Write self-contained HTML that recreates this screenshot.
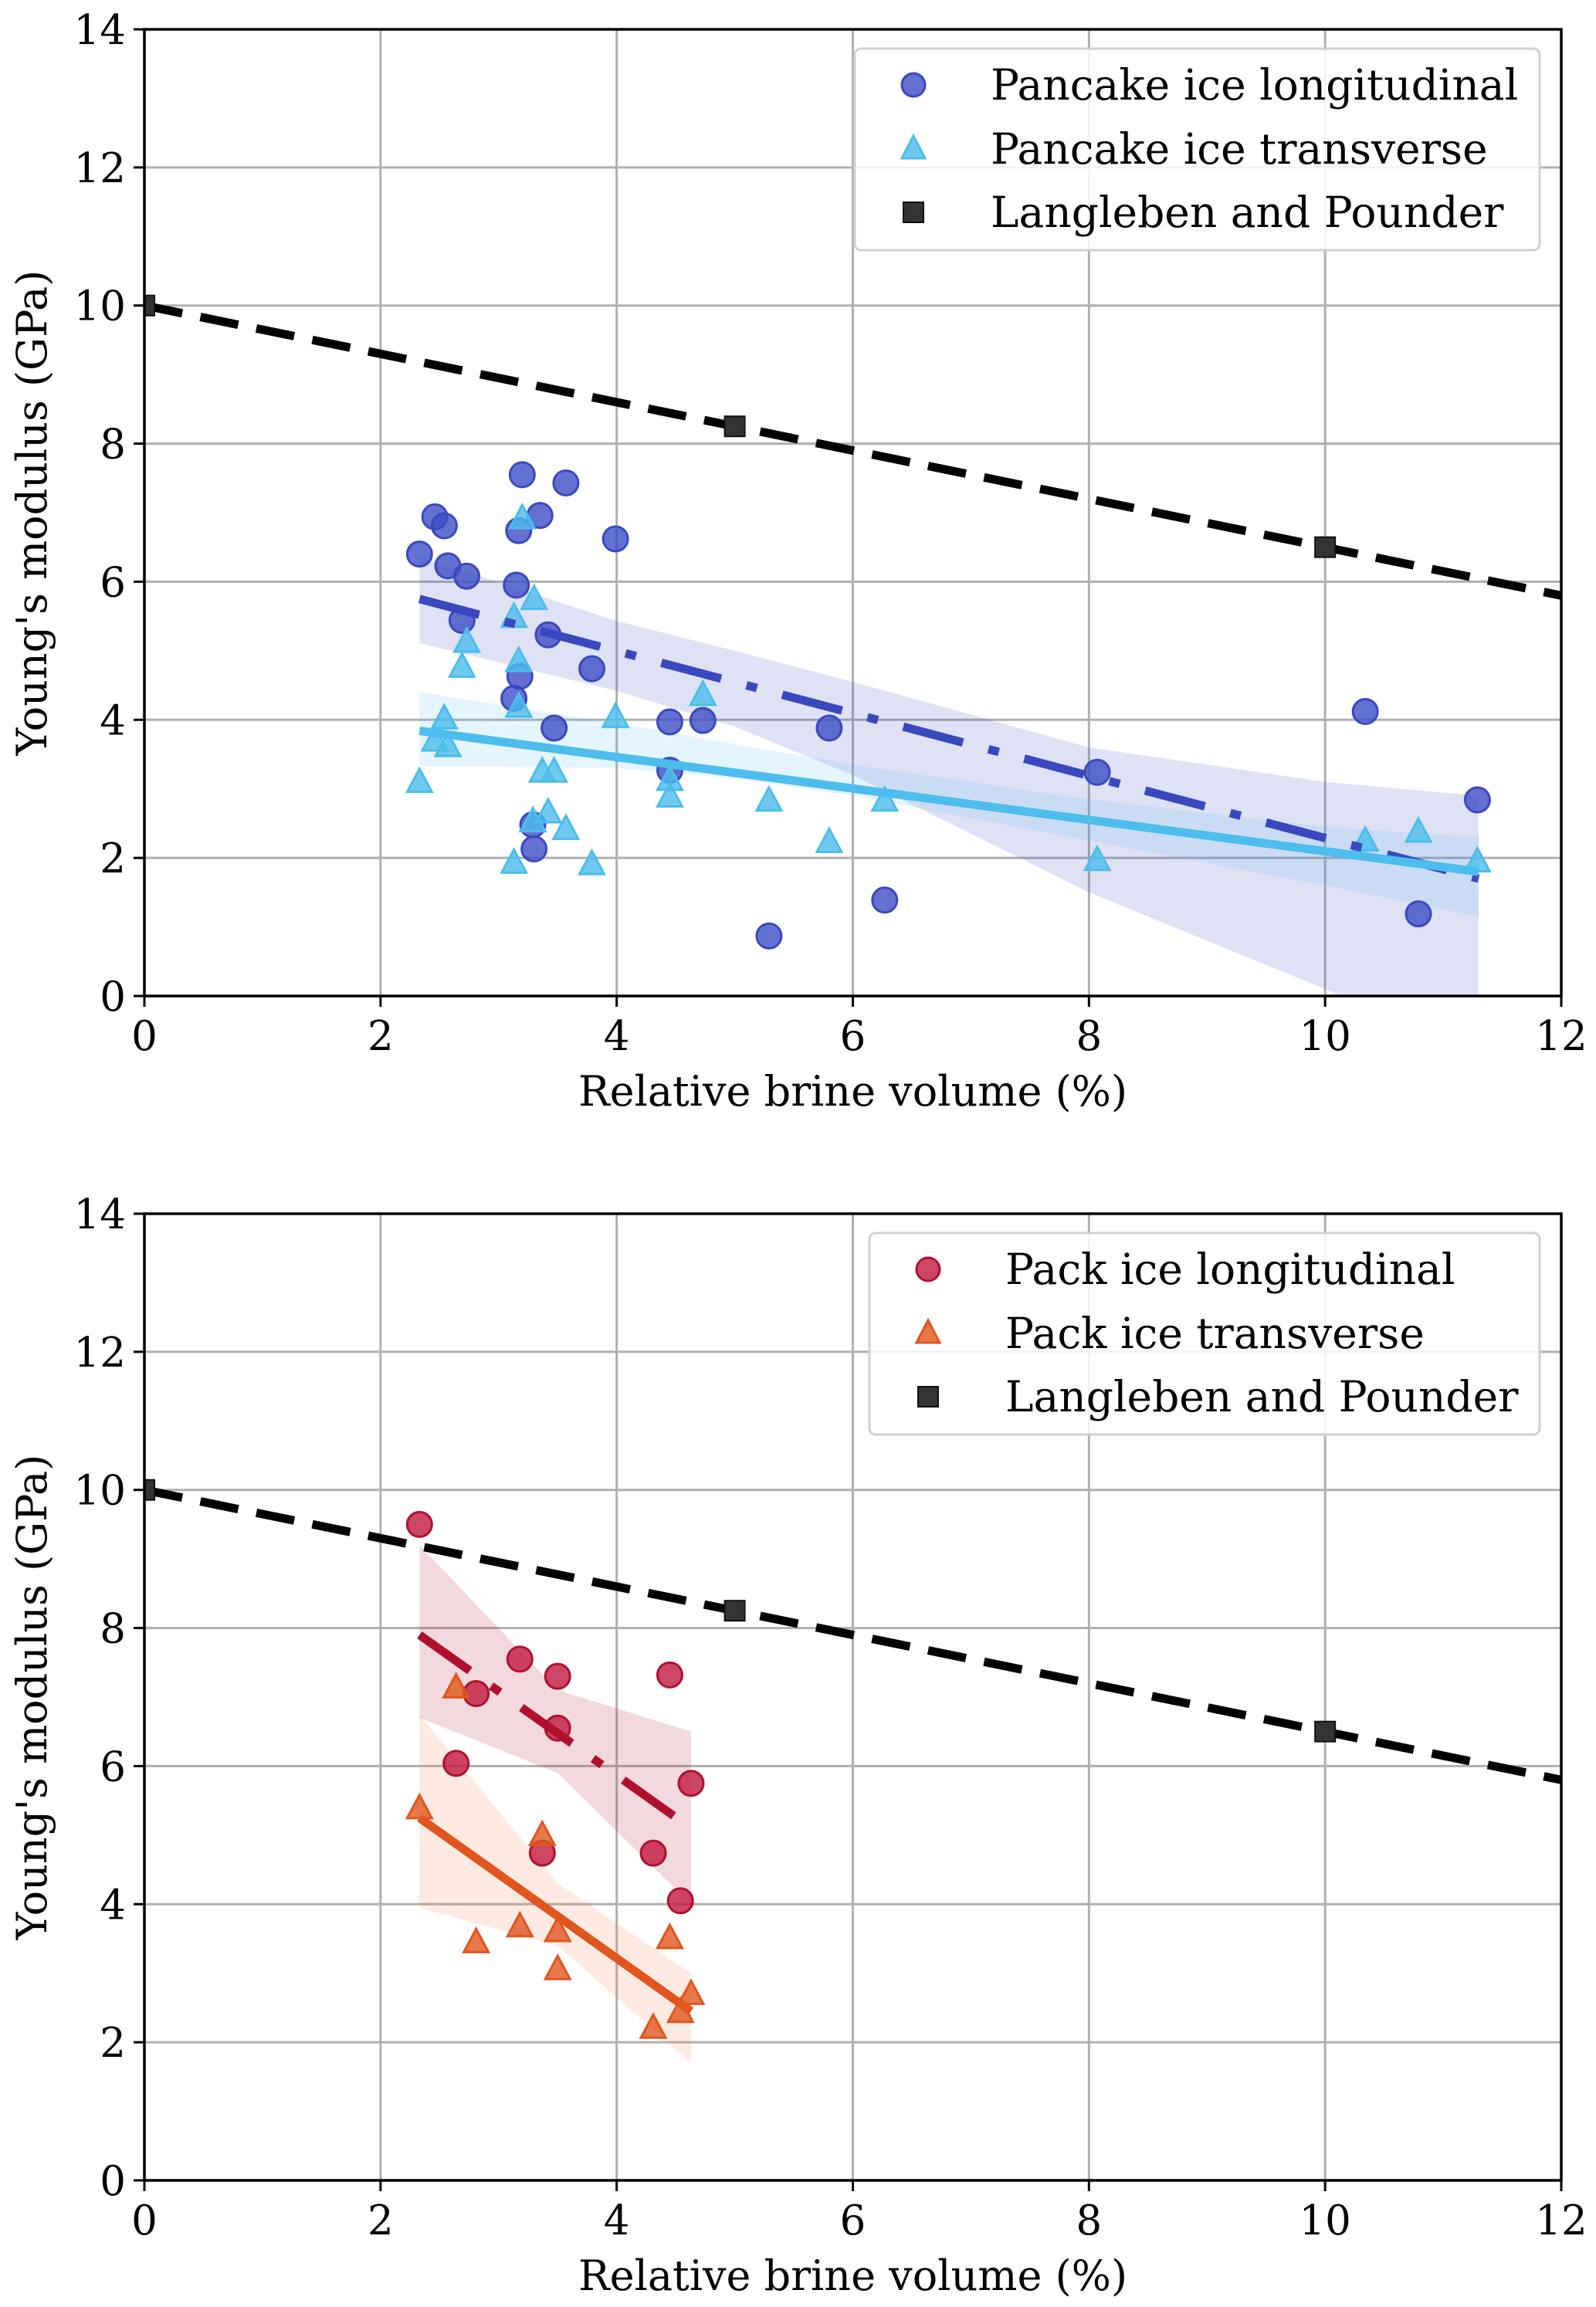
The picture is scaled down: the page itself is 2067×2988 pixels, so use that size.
<!DOCTYPE html>
<html><head><meta charset="utf-8">
<style>
html,body{margin:0;padding:0;background:#fff;}
svg{display:block;}
text{font-family:"DejaVu Serif","Liberation Serif",serif;fill:#000;}
</style></head>
<body>
<svg id="fig" width="2067" height="2988" viewBox="0 0 2067 2988" xmlns="http://www.w3.org/2000/svg"></svg>
<script>
// ---------- data ----------
const xTicks = [0,2,4,6,8,10,12];
const yTicks = [0,2,4,6,8,10,12,14];
const refX = [0,5,10];
const refY = [10,8.25,6.5];
const refLineX = [0,12];
const refLineY = [10,5.8];

const pLongX = [2.33,2.46,2.54,2.57,2.73,2.69,3.2,3.57,3.17,3.35,3.99,3.15,3.42,3.18,3.13,3.79,3.47,4.45,4.73,4.45,5.8,3.29,3.3,5.29,6.27,8.07,10.34,10.79,11.29];
const pLongY = [6.4,6.94,6.81,6.23,6.08,5.44,7.55,7.43,6.74,6.96,6.62,5.95,5.23,4.63,4.31,4.74,3.88,3.97,3.99,3.27,3.88,2.48,2.13,0.87,1.39,3.24,4.12,1.19,2.84];
const pTransX = [2.33,2.46,2.54,2.57,2.69,2.73,3.2,3.3,3.13,3.17,3.17,3.37,3.47,3.42,3.29,3.57,3.13,3.79,3.99,4.45,4.45,4.73,5.29,5.8,6.27,8.07,10.34,10.79,11.29];
const pTransY = [3.09,3.69,4.01,3.61,4.76,5.12,6.91,5.74,5.48,4.84,4.18,3.24,3.24,2.65,2.52,2.41,1.92,1.9,4.03,3.12,2.88,4.35,2.82,2.22,2.82,1.96,2.24,2.37,1.94];
const pLongFitX = [2.33,11.3];
const pLongFitY = [5.75,1.7];
const pTransFitX = [2.33,11.3];
const pTransFitY = [3.84,1.8];
const pBandX = [2.33,4,5,6,8,10,11.3];
const pLongUp = [6.37,5.43,5.0,4.55,3.6,3.1,2.9];
const pLongLo = [5.11,4.42,3.9,3.2,1.5,0.1,-0.8];
const pTransUp = [4.40,3.95,3.65,3.35,2.85,2.45,2.3];
const pTransLo = [3.33,3.3,3.15,2.9,2.25,1.6,1.15];

const kLongX = [2.33,2.64,2.81,3.18,3.5,3.5,3.37,4.31,4.45,4.54,4.63];
const kLongY = [9.5,6.04,7.05,7.55,7.3,6.55,4.74,4.74,7.32,4.05,5.75];
const kTransX = [2.33,2.64,2.81,3.18,3.37,3.5,3.5,4.31,4.45,4.54,4.63];
const kTransY = [5.38,7.13,3.44,3.67,4.99,3.6,3.05,2.2,3.5,2.43,2.69];
const kLongFitX = [2.33,4.63];
const kLongFitY = [7.9,5.1];
const kTransFitX = [2.33,4.63];
const kTransFitY = [5.25,2.45];
const kBandX = [2.33,3.5,4.63];
const kLongUp = [9.2,7.1,6.5];
const kLongLo = [6.7,5.9,4.0];
const kTransUp = [6.75,4.3,3.0];
const kTransLo = [3.95,3.4,1.7];

// ---------- drawing ----------
const NS = "http://www.w3.org/2000/svg";
const svg = document.getElementById('fig');
function mk(tag, attrs, parent){
  const e = document.createElementNS(NS, tag);
  for (const k in attrs) e.setAttribute(k, attrs[k]);
  (parent||svg).appendChild(e);
  return e;
}

function panel(cfg){
  const L=187, R=2022, T=cfg.top, B=cfg.top+1252;
  const sx = v => L + (v-0)/(12-0)*(R-L);
  const sy = v => B - (v-0)/(14-0)*(B-T);
  const g = mk('g',{});
  
  
  const clipId = cfg.name+'-clip';
  const defs = mk('defs',{},g);
  const cp = mk('clipPath',{id:clipId},defs);
  mk('rect',{x:L,y:T,width:R-L,height:B-T},cp);

  const grid = mk('g',{stroke:'#b0b0b0','stroke-width':3},g);
  
  
  xTicks.forEach(v=>{ mk('line',{x1:sx(v),x2:sx(v),y1:T,y2:B},grid); });
  yTicks.forEach(v=>{ mk('line',{x1:L,x2:R,y1:sy(v),y2:sy(v)},grid); });

  const plot = mk('g',{'clip-path':'url(#'+clipId+')'},g);

  function band(xs, up, lo, color, name){
    let d = '';
    xs.forEach((x,i)=>{ d += (i?'L':'M')+sx(x)+','+sy(up[i]); });
    for(let i=xs.length-1;i>=0;i--) d += 'L'+sx(xs[i])+','+sy(lo[i]);
    const p = mk('path',{d:d+'Z',fill:color,'fill-opacity':0.16,stroke:'none'},plot);
    
    
  }
  band(cfg.bandX, cfg.longUp, cfg.longLo, cfg.longColor, 'confidence-band-longitudinal');
  band(cfg.bandX, cfg.transUp, cfg.transLo, cfg.transBand, 'confidence-band-transverse');

  function scatterCircles(xs, ys, fill, edge, name){
    xs.forEach((x,i)=>{
      const c = mk('circle',{cx:sx(x),cy:sy(ys[i]),r:16,fill:fill,'fill-opacity':0.8,stroke:edge,'stroke-width':3},plot);
      
      
    });
  }
  function scatterTri(xs, ys, fill, name){
    xs.forEach((x,i)=>{
      const cx=sx(x), cy=sy(ys[i]);
      const t = mk('polygon',{points:(cx)+','+(cy-18)+' '+(cx-16)+','+(cy+12)+' '+(cx+16)+','+(cy+12),fill:fill,'fill-opacity':0.8,stroke:fill,'stroke-width':3},plot);
      
      
    });
  }
  scatterCircles(cfg.longX, cfg.longY, cfg.longPt, cfg.longColor, 'point-longitudinal');
  scatterTri(cfg.transX, cfg.transY, cfg.transColor, 'point-transverse');

  const fl = mk('line',{x1:sx(cfg.longFitX[0]),y1:sy(cfg.longFitY[0]),x2:sx(cfg.longFitX[1]),y2:sy(cfg.longFitY[1]),stroke:cfg.longColor,'stroke-width':11,'stroke-dasharray':'80 34 14 34'},plot);
  
  
  const ft = mk('line',{x1:sx(cfg.transFitX[0]),y1:sy(cfg.transFitY[0]),x2:sx(cfg.transFitX[1]),y2:sy(cfg.transFitY[1]),stroke:cfg.transColor,'stroke-width':11},plot);
  
  

  const rl = mk('line',{x1:sx(refLineX[0]),y1:sy(refLineY[0]),x2:sx(refLineX[1]),y2:sy(refLineY[1]),stroke:'#000','stroke-width':11,'stroke-dasharray':'50 24'},plot);
  
  
  refX.forEach((x,i)=>{
    const s = mk('rect',{x:sx(x)-13,y:sy(refY[i])-13,width:26,height:26,fill:'#333',stroke:'#111','stroke-width':2},plot);
    
    
  });

  const fr = mk('rect',{x:L,y:T,width:R-L,height:B-T,fill:'none',stroke:'#000','stroke-width':3.5},g);
  
  

  xTicks.forEach(v=>{
    mk('line',{x1:sx(v),x2:sx(v),y1:B,y2:B+14,stroke:'#000','stroke-width':3},g);
    const t = mk('text',{x:sx(v),y:B+70,'text-anchor':'middle','font-size':53},g);
    t.textContent = v;
    
    
  });
  yTicks.forEach(v=>{
    mk('line',{x1:L-14,x2:L,y1:sy(v),y2:sy(v),stroke:'#000','stroke-width':3},g);
    const t = mk('text',{x:L-24,y:sy(v)+19,'text-anchor':'end','font-size':53},g);
    t.textContent = v;
    
    
  });

  const xl = mk('text',{x:(L+R)/2,y:B+142,'text-anchor':'middle','font-size':54},g);
  xl.textContent = 'Relative brine volume (%)';
  
  
  const yc = (T+B)/2;
  const yl = mk('text',{x:0,y:0,'text-anchor':'middle','font-size':54,transform:'translate(60,'+yc+') rotate(-90)'},g);
  yl.textContent = "Young's modulus (GPa)";
  
  

  const lg = mk('g',{},g);
  
  
  const lx = cfg.legX, ly = T+25;
  mk('rect',{x:lx,y:ly,width:R-28-lx,height:261,rx:8,fill:'#fff','fill-opacity':0.85,stroke:'#d0d0d0','stroke-width':3},lg);
  const mx = lx+76, tx = lx+176;
  const rows = [ly+47, ly+130, ly+212];
  const m1 = mk('circle',{cx:mx,cy:rows[0],r:15,fill:cfg.longPt,'fill-opacity':0.8,stroke:cfg.longColor,'stroke-width':3},lg);
  const m2 = mk('polygon',{points:mx+','+(rows[1]-17)+' '+(mx-15)+','+(rows[1]+12)+' '+(mx+15)+','+(rows[1]+12),fill:cfg.transColor,'fill-opacity':0.8,stroke:cfg.transColor,'stroke-width':3},lg);
  const m3 = mk('rect',{x:mx-13,y:rows[2]-13,width:26,height:26,fill:'#333',stroke:'#111','stroke-width':2},lg);
  [m1,m2,m3].forEach(m=>{   });
  cfg.labels.forEach((s,i)=>{
    const t = mk('text',{x:tx,y:rows[i]+19,'font-size':55},lg);
    t.textContent = s;
    
    
  });
}

panel({name:'pancake-ice-chart', top:38, legX:1107,
  longX:pLongX,longY:pLongY,transX:pTransX,transY:pTransY,
  longFitX:pLongFitX,longFitY:pLongFitY,transFitX:pTransFitX,transFitY:pTransFitY,
  bandX:pBandX,longUp:pLongUp,longLo:pLongLo,transUp:pTransUp,transLo:pTransLo,
  longColor:'#3a48c0',longPt:'#3d4dc4',transColor:'#4cbdec',transBand:'#60c0f0',
  labels:['Pancake ice longitudinal','Pancake ice transverse','Langleben and Pounder']});

panel({name:'pack-ice-chart', top:1572, legX:1126,
  longX:kLongX,longY:kLongY,transX:kTransX,transY:kTransY,
  longFitX:kLongFitX,longFitY:kLongFitY,transFitX:kTransFitX,transFitY:kTransFitY,
  bandX:kBandX,longUp:kLongUp,longLo:kLongLo,transUp:kTransUp,transLo:kTransLo,
  longColor:'#b0102e',longPt:'#c2183e',transColor:'#e0561e',transBand:'#f08050',
  labels:['Pack ice longitudinal','Pack ice transverse','Langleben and Pounder']});
</script>
</body></html>
